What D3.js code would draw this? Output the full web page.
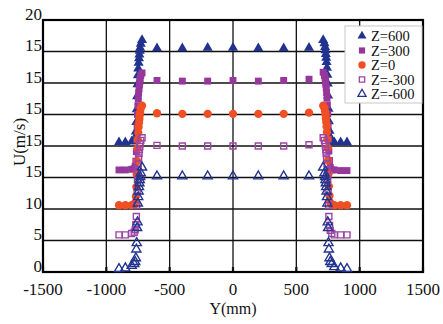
<!DOCTYPE html>
<meta charset="utf-8">
<html>
<script src="https://d3js.org/d3.v7.min.js"></script>
<style>
  body { margin: 0; background: #fff; }
  text { font-family: "Liberation Serif", "Times New Roman", serif; fill: #111; }
</style>
<div id="chart"></div>
<script>

// series names, stacking offset (each profile is shifted up by 5 m/s)
var series = ["Z=600", "Z=300", "Z=0", "Z=-300", "Z=-600"];
var offsets = [20, 15, 10, 5, 0];

// measuring positions Y (mm)
var posLeft = [-900, -850, -800, -780, -772, -767, -763, -760, -757, -754, -751, -748, -745, -742, -739, -736, -733, -728, -718];
var posCore = [-600, -400, -200, 0, 200, 400, 600];
var posRight = [712, 722, 727, 730, 733, 736, 739, 742, 745, 748, 751, 754, 757, 762, 768, 780, 800, 850, 900];

// U (m/s)
var u600L = [0.6, 0.6, 0.7, 0.9, 1.4, 2.3, 3.8, 5.8, 7.9, 9.8, 11.2, 12.3, 13.2, 13.9, 14.5, 15.1, 15.6, 16.2, 16.8];
var u600C = [15.5, 15.5, 15.6, 15.6, 15.5, 15.5, 15.6];
var u600R = [16.8, 16.3, 15.7, 15.2, 14.6, 14.0, 13.3, 12.4, 11.3, 9.9, 8.0, 5.9, 3.9, 2.4, 1.4, 0.8, 0.6, 0.6, 0.6];

var u300L = [1.2, 1.2, 1.3, 1.4, 1.8, 2.6, 4.1, 6.0, 8.1, 10.0, 11.4, 12.5, 13.4, 14.1, 14.7, 15.2, 15.7, 16.2, 16.6];
var u300C = [15.4, 15.3, 15.3, 15.4, 15.3, 15.4, 15.6];
var u300R = [16.7, 16.2, 15.8, 15.3, 14.8, 14.2, 13.5, 12.6, 11.5, 10.1, 8.2, 6.1, 4.2, 2.7, 1.6, 1.2, 1.2, 1.1, 1.1];

var u0L = [0.6, 0.6, 0.6, 0.7, 1.0, 2.0, 3.5, 5.5, 7.6, 9.6, 11.0, 12.1, 13.0, 13.7, 14.3, 14.9, 15.4, 16.0, 16.4];
var u0C = [15.2, 15.1, 15.1, 15.1, 15.1, 15.1, 15.3];
var u0R = [16.4, 16.0, 15.5, 15.0, 14.4, 13.8, 13.1, 12.2, 11.1, 9.7, 7.7, 5.6, 3.6, 2.1, 1.0, 0.7, 0.6, 0.6, 0.6];

var uM300L = [0.9, 0.9, 1.1, 1.3, 1.7, 2.5, 3.8, 5.6, 7.7, 9.7, 11.1, 12.2, 13.1, 13.8, 14.4, 14.9, 15.4, 15.9, 16.3];
var uM300C = [15.1, 15.0, 15.0, 15.0, 15.0, 15.0, 15.2];
var uM300R = [16.3, 15.9, 15.4, 14.9, 14.4, 13.8, 13.1, 12.2, 11.1, 9.7, 7.7, 5.6, 3.8, 2.4, 1.6, 1.1, 0.9, 0.9, 0.9];

var uM600L = [0.5, 0.6, 1.0, 1.3, 1.6, 2.2, 3.6, 4.6, 7.0, 7.9, 10.9, 11.9, 12.8, 13.5, 14.1, 14.6, 15.1, 15.7, 16.6];
var uM600C = [15.2, 15.2, 15.2, 15.2, 15.2, 15.2, 15.2];
var uM600R = [16.6, 15.7, 15.1, 14.6, 14.1, 13.5, 12.8, 11.9, 10.9, 7.9, 7.0, 4.6, 3.6, 2.2, 1.6, 1.3, 0.8, 0.6, 0.5];

var uValues = [
  [u600L, u600C, u600R],
  [u300L, u300C, u300R],
  [u0L, u0C, u0R],
  [uM300L, uM300C, uM300R],
  [uM600L, uM600C, uM600R]
];

// axis ticks
var xTicks = [-1500, -1000, -500, 0, 500, 1000, 1500];
var yTicks = [0, 5, 10, 15, 20, 25, 30, 35, 40];
var yTickLabels = ["0", "5", "10", "15", "15", "15", "15", "15", "20"];

var colors = ["#22328f", "#96379c", "#f04f23", "#9d45a5", "#24348f"];
var shapes = [d3.symbolTriangle, d3.symbolSquare, d3.symbolCircle, d3.symbolSquare, d3.symbolTriangle];
var filled = [true, true, true, false, false];
var sizes = [44, 48, 54, 36, 36];

var width = 443, height = 324;
var margin = {left: 43, top: 20, right: 20, bottom: 52};

var svg = d3.select("#chart").append("svg")
  .attr("width", width)
  .attr("height", height);

var x = d3.scaleLinear().domain([-1500, 1500]).range([margin.left, width - margin.right]);
var y = d3.scaleLinear().domain([0, 40]).range([height - margin.bottom, margin.top]);

// grid
svg.append("g").selectAll("line.h")
  .data(yTicks)
  .enter().append("line")
    .attr("x1", x(-1500)).attr("x2", x(1500))
    .attr("y1", function(d) { return y(d); }).attr("y2", function(d) { return y(d); })
    .attr("stroke", "#111").attr("stroke-width", 1.3);

svg.append("g").selectAll("line.v")
  .data(xTicks)
  .enter().append("line")
    .attr("y1", y(0)).attr("y2", y(40))
    .attr("x1", function(d) { return x(d); }).attr("x2", function(d) { return x(d); })
    .attr("stroke", "#111").attr("stroke-width", 1.3);

// small inward ticks on the bottom axis
svg.append("g").selectAll("line.t")
  .data(xTicks)
  .enter().append("line")
    .attr("y1", y(0)).attr("y2", y(0) - 5)
    .attr("x1", function(d) { return x(d); }).attr("x2", function(d) { return x(d); })
    .attr("stroke", "#111").attr("stroke-width", 2.2);

// frame
svg.append("rect")
  .attr("x", x(-1500)).attr("y", y(40))
  .attr("width", x(1500) - x(-1500)).attr("height", y(0) - y(40))
  .attr("fill", "none").attr("stroke", "#000").attr("stroke-width", 2.2);

// tick labels
svg.append("g").selectAll("text")
  .data(xTicks)
  .enter().append("text")
    .attr("x", function(d) { return x(d); })
    .attr("y", 295)
    .attr("text-anchor", "middle")
    .style("font-size", "17px")
    .text(function(d) { return d; });

svg.append("g").selectAll("text")
  .data(yTicks)
  .enter().append("text")
    .attr("x", x(-1500) - 1)
    .attr("y", function(d) { return y(d) - 0.5; })
    .attr("text-anchor", "end")
    .style("font-size", "17px")
    .text(function(d, i) { return yTickLabels[i]; });

svg.append("text")
  .attr("x", x(0)).attr("y", 314)
  .attr("text-anchor", "middle")
  .style("font-size", "16px")
  .text("Y(mm)");

svg.append("text")
  .attr("transform", "translate(25,142) rotate(-90)")
  .attr("text-anchor", "middle")
  .style("font-size", "17px")
  .text("U(m/s)");

// points
var positions = posLeft.concat(posCore, posRight);
series.forEach(function(name, i) {
  var u = uValues[i][0].concat(uValues[i][1], uValues[i][2]);
  var pts = positions.map(function(p, j) { return {y: p, u: u[j]}; });
  var sym = d3.symbol().type(shapes[i]).size(sizes[i]);
  svg.append("g").selectAll("path")
    .data(pts)
    .enter().append("path")
      .attr("d", sym)
      .attr("transform", function(d) { return "translate(" + x(d.y) + "," + y(d.u + offsets[i]) + ")"; })
      .attr("fill", filled[i] ? colors[i] : "none")
      .attr("stroke", filled[i] ? "none" : colors[i])
      .attr("stroke-width", 1.4);
});

// legend
var legend = svg.append("g").attr("transform", "translate(345,26)");
legend.append("rect")
  .attr("width", 77).attr("height", 77)
  .attr("fill", "#fff").attr("stroke", "#c8c8c8").attr("stroke-width", 1);

var items = legend.selectAll("g.item")
  .data(series)
  .enter().append("g")
    .attr("transform", function(d, i) { return "translate(0," + (10 + i * 14.5) + ")"; });

items.append("path")
  .attr("d", function(d, i) { return d3.symbol().type(shapes[i]).size(sizes[i] * 0.8)(); })
  .attr("transform", "translate(17,0)")
  .attr("fill", function(d, i) { return filled[i] ? colors[i] : "none"; })
  .attr("stroke", function(d, i) { return filled[i] ? "none" : colors[i]; })
  .attr("stroke-width", 1.3);

items.append("text")
  .attr("x", 26)
  .attr("dy", "0.35em")
  .style("font-size", "14.5px")
  .text(function(d) { return d; });

</script>
</html>
